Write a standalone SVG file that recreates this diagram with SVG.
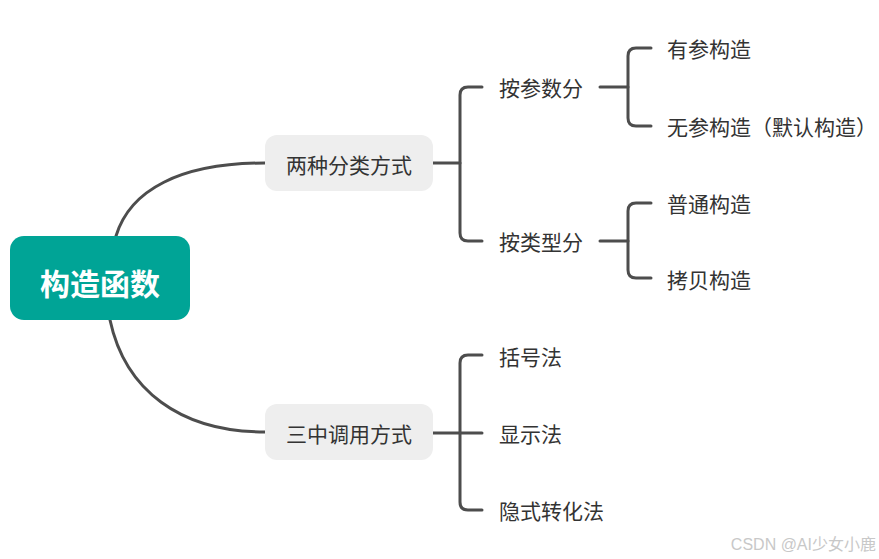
<svg xmlns="http://www.w3.org/2000/svg" width="879" height="559" viewBox="0 0 879 559">
<style>
.t{font-family:"Noto Sans CJK SC","Liberation Sans",sans-serif;font-size:21px;fill:#333;dominant-baseline:central}
.c{fill:none;stroke:#4d4d4d;stroke-width:3;stroke-linecap:round;stroke-linejoin:round}
.box{fill:#eeeeee}
</style>
<rect width="879" height="559" fill="#ffffff"/>
<g id="connectors">
<path class="c" d="M116,236 C130,190 180,163 265,163"/>
<path class="c" d="M110,320 C125,390 180,432 265,432"/>
<path class="c" d="M433,163 H460"/>
<path class="c" d="M482,87 H468 Q460,87 460,95 V233 Q460,241 468,241 H482"/>
<path class="c" d="M600,87 H628"/>
<path class="c" d="M651,48 H636 Q628,48 628,56 V118 Q628,126 636,126 H651"/>
<path class="c" d="M600,241 H628"/>
<path class="c" d="M651,203 H636 Q628,203 628,211 V270 Q628,278 636,278 H651"/>
<path class="c" d="M433,433 H482"/>
<path class="c" d="M482,355 H468 Q460,355 460,363 V502 Q460,510 468,510 H482"/>
</g>
<g id="root">
<rect x="10" y="236" width="180" height="84" rx="14" fill="#00a496"/>
<text x="100" y="282" text-anchor="middle" style="font-family:'Noto Sans CJK SC','Liberation Sans',sans-serif;font-size:30px;font-weight:bold;fill:#fff;dominant-baseline:central">构造函数</text>
</g>
<g id="n1">
<rect class="box" x="265" y="135" width="168" height="56" rx="12"/>
<text class="t" x="349" y="164" text-anchor="middle">两种分类方式</text>
</g>
<g id="n2">
<rect class="box" x="265" y="404" width="168" height="56" rx="12"/>
<text class="t" x="349" y="433" text-anchor="middle">三中调用方式</text>
</g>
<g id="n11"><text class="t" x="499" y="87">按参数分</text></g>
<g id="n12"><text class="t" x="499" y="241">按类型分</text></g>
<g id="n111"><text class="t" x="667" y="48">有参构造</text></g>
<g id="n112"><text class="t" x="667" y="126">无参构造（默认构造）</text></g>
<g id="n121"><text class="t" x="667" y="203">普通构造</text></g>
<g id="n122"><text class="t" x="667" y="279">拷贝构造</text></g>
<g id="n21"><text class="t" x="499" y="356">括号法</text></g>
<g id="n22"><text class="t" x="499" y="433">显示法</text></g>
<g id="n23"><text class="t" x="499" y="510">隐式转化法</text></g>
<text x="876" y="544" text-anchor="end" style="font-family:'Liberation Sans','Noto Sans CJK SC',sans-serif;font-size:16px;fill:#c8c8c8;dominant-baseline:central">CSDN @AI少女小鹿</text>
</svg>
